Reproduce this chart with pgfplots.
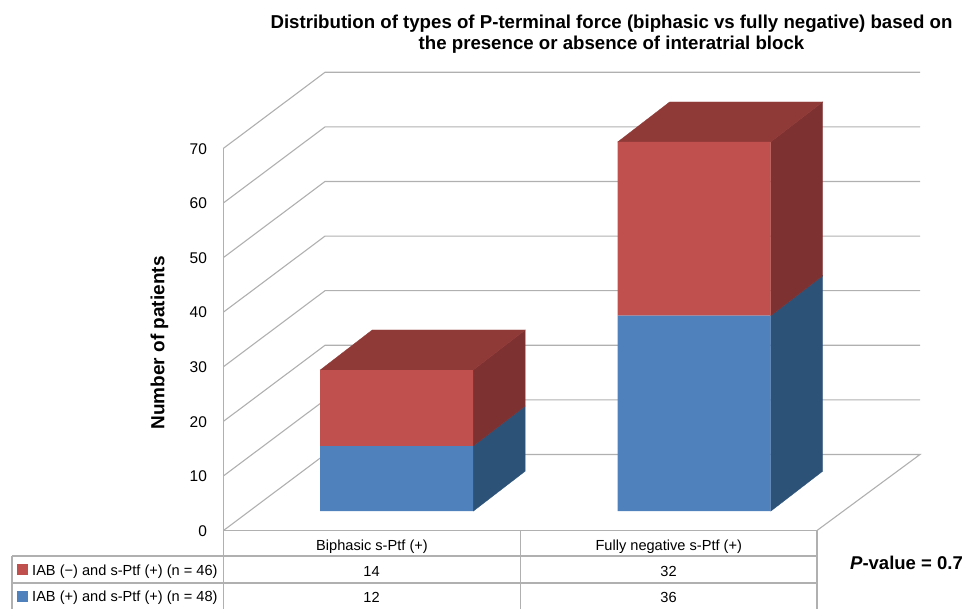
\documentclass[border=0pt]{standalone}
\usepackage{pgfplots}
\pgfplotsset{compat=1.18}
\usepackage{fontspec}
\setmainfont{Liberation Sans}
\definecolor{gridg}{RGB}{176,176,176}
\definecolor{bluef}{RGB}{79,129,189}
\definecolor{blues}{RGB}{45,82,120}
\definecolor{redf}{RGB}{192,80,77}
\definecolor{reds}{RGB}{125,49,48}
\definecolor{redt}{RGB}{144,58,56}
\newcommand{\fs}[1]{\fontsize{#1}{21}\selectfont}
\pgfplotsset{
  frame/.style={scale only axis,width=593.5pt,xmin=223.5,xmax=817,ymin=0,ymax=70,clip=false},
  barframe/.style={frame,hide axis,height=380.1pt,at={(223.5pt,97.8pt)},anchor=south west},
  wall/.style={draw=gridg,line width=1.1pt,no marks,sharp plot},
}
\begin{document}
\begin{tikzpicture}[x=1pt,y=1pt]
\path[use as bounding box] (0,0) rectangle (966,609);
% walls, grid, ticks, labels
\begin{axis}[frame,height=382.2pt,at={(223.5pt,78.5pt)},anchor=south west,
  axis x line*=bottom,axis y line*=left,
  axis line style={draw=gridg,line width=1.1pt},
  major tick length=0pt,
  ytick={0,10,20,30,40,50,60,70},
  /pgf/number format/assume math mode=true,
  y tick label style={font=\fs{15.5},xshift=-13pt,yshift=-0.5pt},
  xtick={372,668.75},
  xticklabels={Biphasic s-Ptf (+),Fully negative s-Ptf (+)},
  x tick label style={font=\fs{14.6},anchor=base,yshift=-20pt},
  ylabel={Number of patients},
  every axis y label/.style={at={(axis cs:159.5,34.35)},rotate=90,anchor=center,font=\bfseries\fs{19}},
  title={Distribution of types of P-terminal force (biphasic vs fully negative) based on\\the presence or absence of interatrial block},
  every axis title/.style={at={(axis cs:611.5,90.93)},anchor=center,align=center,font=\bfseries\fs{18.65}},
]
\addplot[wall] coordinates {(223.5,0)(325,13.92)(920,13.92)(817,0)};
\addplot[wall] coordinates {(223.5,10)(325,23.92)(920,23.92)};
\addplot[wall] coordinates {(223.5,20)(325,33.92)(920,33.92)};
\addplot[wall] coordinates {(223.5,30)(325,43.92)(920,43.92)};
\addplot[wall] coordinates {(223.5,40)(325,53.92)(920,53.92)};
\addplot[wall] coordinates {(223.5,50)(325,63.92)(920,63.92)};
\addplot[wall] coordinates {(223.5,60)(325,73.92)(920,73.92)};
\addplot[wall] coordinates {(223.5,70)(325,83.92)(920,83.92)};
\end{axis}
% bar depth faces
\begin{axis}[barframe]
\addplot[fill=blues,draw=blues,line width=.3pt] coordinates {(473.2,0)(525.2,7.37)(525.2,19.37)(473.2,12)} -- cycle;
\addplot[fill=reds,draw=reds,line width=.3pt] coordinates {(473.2,12)(525.2,19.37)(525.2,33.37)(473.2,26)} -- cycle;
\addplot[fill=redt,draw=redt,line width=.3pt] coordinates {(320.2,26)(372.2,33.37)(525.2,33.37)(473.2,26)} -- cycle;
\addplot[fill=blues,draw=blues,line width=.3pt] coordinates {(770.7,0)(822.7,7.37)(822.7,43.37)(770.7,36)} -- cycle;
\addplot[fill=reds,draw=reds,line width=.3pt] coordinates {(770.7,36)(822.7,43.37)(822.7,75.37)(770.7,68)} -- cycle;
\addplot[fill=redt,draw=redt,line width=.3pt] coordinates {(617.7,68)(669.7,75.37)(822.7,75.37)(770.7,68)} -- cycle;
\end{axis}
% bar fronts
\begin{axis}[barframe,ybar stacked,bar width=153]
\addplot[fill=bluef,draw=none] coordinates {(396.7,12)(694.2,36)};
\addplot[fill=redf,draw=none] coordinates {(396.7,14)(694.2,32)};
\end{axis}
% data table and annotation, in picture pixels
\begin{scope}[x=1pt,y=-1pt,yshift=609pt]
\draw[gridg,line width=1.1pt] (12,556)--(817,556) (12,583)--(817,583)
  (12,556)--(12,609) (223.5,530.5)--(223.5,609) (520.5,530.5)--(520.5,609) (817,530.5)--(817,609);
\fill[redf] (17,564) rectangle (28,575);
\fill[bluef] (17,591) rectangle (28,602);
\node[anchor=base west,inner sep=0pt,font=\fs{14.6}] at (32,576) {IAB (−) and s-Ptf (+) (n = 46)};
\node[anchor=base west,inner sep=0pt,font=\fs{14.6}] at (32,602) {IAB (+) and s-Ptf (+) (n = 48)};
\node[anchor=base,inner sep=0pt,font=\fs{14.6}] at (371.5,577) {14};
\node[anchor=base,inner sep=0pt,font=\fs{14.6}] at (371.5,603) {12};
\node[anchor=base,inner sep=0pt,font=\fs{14.6}] at (668.5,577) {32};
\node[anchor=base,inner sep=0pt,font=\fs{14.6}] at (668.5,603) {36};
\node[anchor=base east,inner sep=0pt,font=\bfseries\fs{18.5}] at (963,569.5) {\itshape P\upshape-value = 0.7};
\end{scope}
\end{tikzpicture}
\end{document}
